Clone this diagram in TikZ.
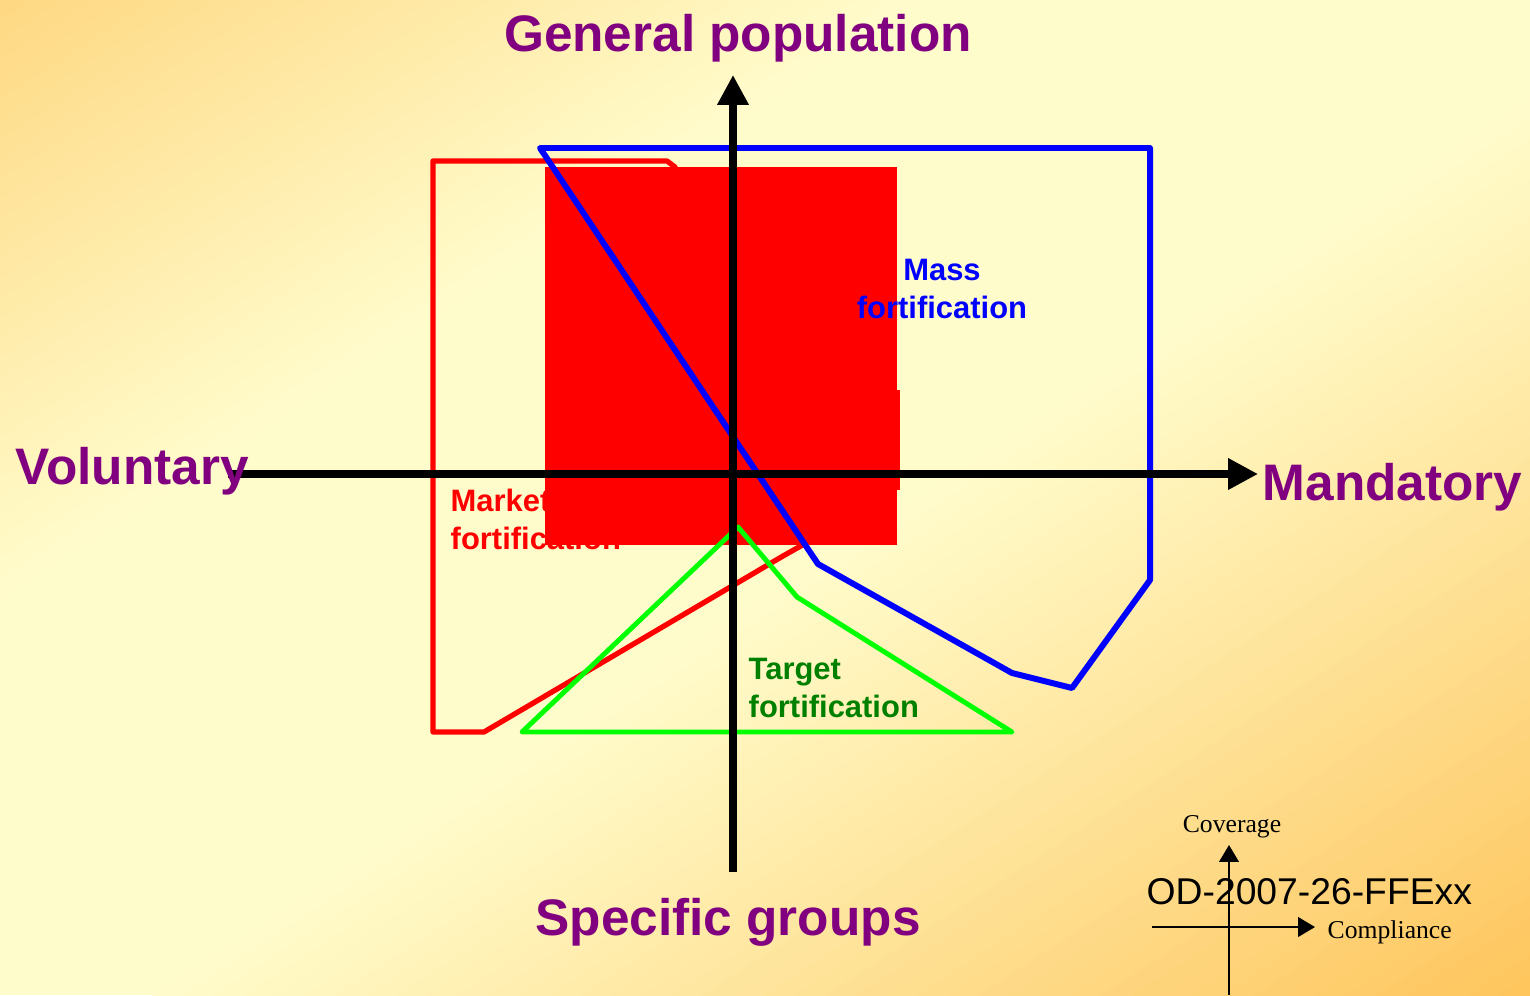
\documentclass[tikz,border=0pt]{standalone}
\usepackage{fontspec}
\usepackage{tikz}
\usetikzlibrary{arrows.meta, positioning}
\newfontfamily\arialfont{Liberation Sans}
\newfontfamily\timesfont{Liberation Serif}
\definecolor{cornertl}{RGB}{254,216,130}
\definecolor{cornerbr}{RGB}{254,197,92}
\definecolor{bgpale}{RGB}{255,252,204}
\definecolor{labelpurple}{RGB}{128,0,128}
\definecolor{targetgreen}{RGB}{0,128,0}
\tikzset{
	axislabel/.style={
		font=\arialfont\bfseries\fontsize{14.6}{17}\selectfont,
		text=labelpurple,
		inner sep=0pt
	},
	zonelabel/.style={
		font=\arialfont\bfseries\fontsize{8.8}{10.8}\selectfont,
		align=left,
		inner sep=0pt
	},
	legendlabel/.style={
		font=\timesfont\fontsize{7.3}{9}\selectfont,
		inner sep=0pt
	},
	axis/.style={line width=2pt,-{Triangle[length=8.5pt,width=8.5pt]}},
	smallaxis/.style={line width=0.45pt,-{Triangle[length=4.8pt,width=5.6pt]}},
	zone/.style={line join=round, line cap=round}
}

\begin{document}
\begin{tikzpicture}[x=0.01cm, y=-0.01cm]
	% background, diagonal bands
	\fill [bgpale] (0,0) rectangle (1530,995);
	\begin{scope}
		\clip (0,0) rectangle (1530,995);
		\foreach \k in {0,...,29} {
			\pgfmathsetmacro{\sa}{\k*0.02}
			\pgfmathsetmacro{\sb}{\sa+0.022}
			\pgfmathsetmacro{\pct}{(\k+0.5)/30*100}
			\fill [bgpale!\pct!cornertl] (\sa*1530,0) -- (\sb*1530,0) -- (0,\sb*995) -- (0,\sa*995) -- cycle;
		}
		\foreach \k in {0,...,44} {
			\pgfmathsetmacro{\sa}{1.1+\k*0.02}
			\pgfmathsetmacro{\sb}{\sa+0.022}
			\pgfmathsetmacro{\pct}{(\k+0.5)/45*100}
			\fill [cornerbr!\pct!bgpale] (\sa*1530,0) -- (\sb*1530,0) -- (0,\sb*995) -- (0,\sa*995) -- cycle;
		}
	\end{scope}

	\node (market) [zonelabel, text=red, anchor=base west] at (450,549) {Market\\fortification};

	% filled block
	\fill [red] (545,167) rectangle (897,545);
	\fill [red] (895,390) rectangle (900,490);

	\draw [zone, red, line width=1.5pt] (675,167) -- (667,161) -- (433,161) -- (433,732)
		-- (484,732) -- (783,556) -- (806,543);
	\draw [zone, blue, line width=1.7pt] (540,148) -- (1150,148) -- (1150,580) -- (1072,688)
		-- (1012,673) -- (818,564) -- cycle;
	\draw [zone, green, line width=1.4pt] (738,527) -- (797,597) -- (1012,732) -- (522,732) -- cycle;

	\node (mass) [zonelabel, text=blue, align=center, anchor=base] at (942,318) {Mass\\fortification};
	\node (target) [zonelabel, text=targetgreen, anchor=base west] at (748,717) {Target\\fortification};

	% main axes
	\coordinate (left) at (228,474);
	\coordinate (right) at (1258,474);
	\coordinate (bottom) at (733,872);
	\coordinate (top) at (733,75);
	\draw [axis] (left) -- (right);
	\draw [axis] (bottom) -- (top);

	\node (general) [axislabel, anchor=base] at (738,51) {General population};
	\node (specific) [axislabel, anchor=base] at (728,935) {Specific groups};
	\node (voluntary) [axislabel, anchor=base west] at (15,484) {Voluntary};
	\node (mandatory) [axislabel, anchor=base west] at (1262,500) {Mandatory};

	% legend in the corner
	\coordinate (lbottom) at (1229,995);
	\coordinate (ltop) at (1229,845);
	\coordinate (lleft) at (1152,927);
	\coordinate (lright) at (1315,927);
	\draw [smallaxis] (lbottom) -- (ltop);
	\draw [smallaxis] (lleft) -- (lright);
	\node (coverage) [legendlabel, anchor=base] at (1232,832) {Coverage};
	\node (compliance) [legendlabel, anchor=base west] at (1327,938) {Compliance};
	\node (docid) [font=\arialfont\fontsize{10.6}{12}\selectfont, inner sep=0pt, anchor=base west]
		at (1146,904) {OD-2007-26-FFExx};
\end{tikzpicture}
\end{document}
